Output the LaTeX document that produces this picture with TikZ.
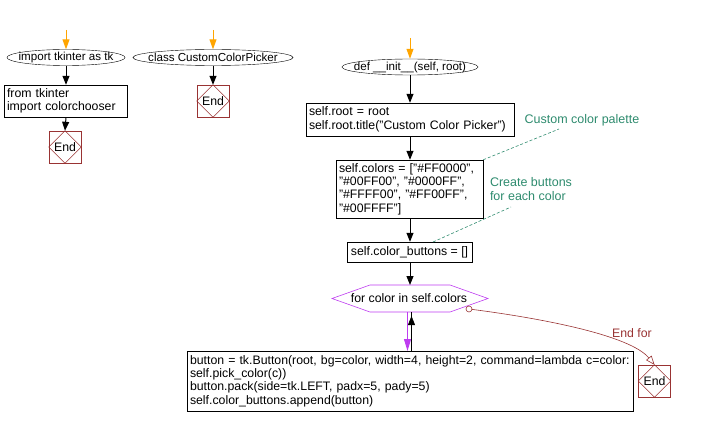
\documentclass[tikz,border=0pt]{standalone}
\usepackage{fontspec}
\setmainfont{Liberation Sans}
\usetikzlibrary{shapes.geometric,arrows.meta,calc}
\definecolor{endred}{RGB}{153,51,51}
\definecolor{cmtgreen}{RGB}{46,139,110}
\definecolor{loopviolet}{RGB}{190,60,240}
\definecolor{startorange}{RGB}{255,165,0}
\tikzset{
  every node/.style={font=\fontsize{12.3}{13.4}\selectfont},
  startell/.style={draw,ellipse,inner sep=0pt},
  procbox/.style={draw,rectangle,inner xsep=3pt,inner ysep=2pt,align=left},
  endbox/.style={draw=endred,rectangle,minimum width=32pt,minimum height=32pt,inner sep=0pt},
  flow/.style={line width=1pt,-{Triangle[length=9pt,width=7pt]}},
  startflow/.style={draw=startorange,line width=1pt,-{Triangle[length=10pt,width=7pt]},startorange},
  cmt/.style={cmtgreen,densely dashed,line width=0.6pt},
  cmttext/.style={cmtgreen,align=left,font=\fontsize{12.5}{14}\selectfont},
}
\newcommand{\stopdiamond}[2]{%
  \node[endbox] (#1) at #2 {};
  \draw[endred,line width=0.5pt] (#1.north) -- (#1.east) -- (#1.south) -- (#1.west) -- cycle;
  \node at (#1) {End};
}
% name, position, width, height, text
\newcommand{\startoval}[5]{%
  \node[startell,minimum width=#3,minimum height=#4] (#1) at #2 {};
  \node[font=\fontsize{11.6}{13}\selectfont] (#1-t) at (#1) {#5};
}
\begin{document}
\begin{tikzpicture}[x=1pt,y=-1pt]
\useasboundingbox (0,0) rectangle (705,425);

% --- column 1
\coordinate (s1) at (66,30);
\startoval{imp}{(66,57.5)}{118pt}{16pt}{import tkinter as tk}
\draw[startflow] (s1) -- (imp.north);
\node[procbox,minimum width=123pt,minimum height=32pt,text width=117pt] (from) at (65.5,101)
  {from tkinter\\import colorchooser};
\draw[flow] (imp.south) -- (imp.south |- from.north);
\stopdiamond{end1}{(65,147)}
\draw[flow] (imp.south |- from.south) -- (end1.north);

% --- column 2
\coordinate (s2) at (213,30);
\startoval{cls}{(213,57.5)}{160pt}{16pt}{class CustomColorPicker}
\draw[startflow] (s2) -- (cls.north);
\stopdiamond{end2}{(213,101)}
\draw[flow] (cls.south) -- (end2.north);

% --- column 3
\coordinate (s3) at (410,38);
\startoval{init}{(410,67)}{136pt}{16pt}{def \_\_init\_\_(self, root)}
\draw[startflow] (s3) -- (init.north);

\node[procbox,minimum width=208pt,minimum height=33pt,text width=202pt] (root) at (410,119.5)
  {self.root = root\\self.root.title("Custom Color Picker")};
\draw[flow] (init.south) -- (root.north);

\node[procbox,minimum width=147pt,minimum height=58pt,text width=141pt] (colors) at (409.5,189)
  {self.colors = ["\#FF0000",\\"\#00FF00", "\#0000FF",\\"\#FFFF00", "\#FF00FF",\\"\#00FFFF"]};
\draw[flow] (root.south) -- (root.south |- colors.north);

\node[procbox,minimum width=125pt,minimum height=20pt,align=center] (cb) at (409.5,252)
  {self.color\_buttons = []};
\draw[flow] (root.south |- colors.south) -- (root.south |- cb.north);

% hexagon
\coordinate (hx) at (409,298.5);
\draw[loopviolet,line width=0.6pt] (332,298.5) -- (370,285) -- (450,285) -- (488,298.5) -- (450,312) -- (370,312) -- cycle;
\node (loop) at (hx) {for color in self.colors};
\coordinate (hxtop) at (410,285);
\draw[flow] (root.south |- cb.south) -- (hxtop);

\node[procbox,minimum width=446pt,minimum height=60pt,text width=440pt] (body) at (410,381)
  {button = tk.Button(root, bg=color, width=4, height=2, command=lambda c=color:\\self.pick\_color(c))\\button.pack(side=tk.LEFT, padx=5, pady=5)\\self.color\_buttons.append(button)};
\coordinate (bdtopL) at (407.5,351);
\coordinate (bdtopR) at (411.5,351);
\coordinate (hxbotL) at (407.5,312);
\coordinate (hxbotR) at (411.5,312);
\draw[loopviolet,line width=1pt,-{Triangle[length=12pt,width=7pt]}] (hxbotL) -- (bdtopL);
\draw[line width=1pt] (bdtopR) -- (hxbotR);
\draw[-{Triangle[length=9pt,width=7pt]}] (bdtopR) -- ($(hxbotR)+(0,4)$);

% end for
\stopdiamond{end3}{(654.5,381)}
\coordinate (ef) at (469,309);
\draw[endred,line width=0.6pt,-{Triangle[open,length=9pt,width=7pt]}] (ef) .. controls (540,318) and (630,335) .. (end3.north);
\draw[endred,fill=white,line width=0.6pt] (ef) circle (3pt);
\node[endred,font=\fontsize{12.3}{13}\selectfont] (eflabel) at (632,333) {End for};

% comments
\node[cmttext] (c1) at (582,120.5) {Custom color palette};
\draw[cmt] (colors.north east) -- (559,129);
\node[cmttext] (c2) at (531,189.5) {Create buttons\\for each color};
\draw[cmt] (433,242) -- (511,207);
\end{tikzpicture}
\end{document}
